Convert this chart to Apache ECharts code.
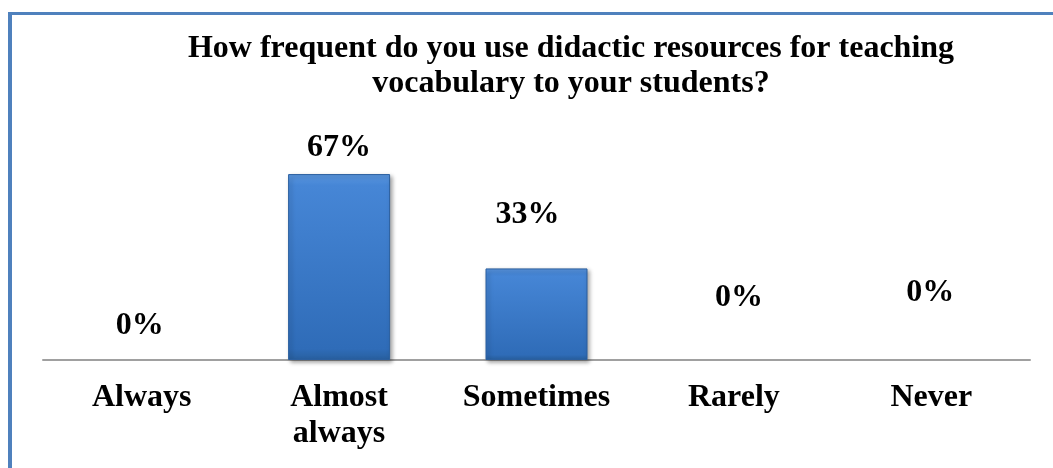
<!DOCTYPE html>
<html>
<head>
<meta charset="utf-8">
<script src="https://cdn.jsdelivr.net/npm/echarts@6/dist/echarts.min.js"></script>
<style>
html,body{margin:0;padding:0;background:#fff;}
#c{width:1053px;height:468px;}
</style>
</head>
<body>
<div id="c"></div>
<script>
const titleText = 'How frequent do you use didactic resources for teaching\nvocabulary to your students?';
const categories = ['Always', 'Almost\nalways', 'Sometimes', 'Rarely', 'Never'];
const values = [0, 67, 33, 0, 0];

const FONT = '"Liberation Serif", "Times New Roman", serif';
// manual label nudges (as in the original chart)
const nudges = [[-2, -18], [0, -10], [-9, -38], [5, -46], [-1, -51]];

const chart = echarts.init(document.getElementById('c'), null, {renderer: 'canvas'});
chart.setOption({
  backgroundColor: '#ffffff',
  animation: false,
  title: {
    text: titleText,
    left: 566,
    top: 26,
    textAlign: 'center',
    textStyle: {fontFamily: FONT, fontWeight: 'bold', fontSize: 32, lineHeight: 35, color: '#000'}
  },
  grid: {left: 43, right: 23, top: 138, bottom: 108},
  xAxis: {
    type: 'category',
    data: categories,
    axisLine: {lineStyle: {color: '#a0a0a0', width: 2}},
    axisTick: {show: false},
    axisLabel: {fontFamily: FONT, fontWeight: 'bold', fontSize: 32, lineHeight: 36, color: '#000', margin: 20, interval: 0}
  },
  yAxis: {
    type: 'value', min: 0, max: 80,
    show: false,
    splitLine: {show: false}
  },
  series: [{
    type: 'bar',
    barWidth: 102,
    data: values.map((v, i) => ({
      value: v,
      label: {offset: nudges[i]},
      itemStyle: v === 0 ? {borderWidth: 0, shadowBlur: 0, shadowOffsetX: 0, shadowOffsetY: 0, shadowColor: 'transparent'} : {}
    })),
    itemStyle: {
      color: new echarts.graphic.LinearGradient(0, 0, 0, 1, [
        {offset: 0, color: '#5b97e0'},
        {offset: 0.06, color: '#4686d6'},
        {offset: 0.94, color: '#2f6cb8'},
        {offset: 1, color: '#28609f'}
      ]),
      borderColor: '#2b5f9f',
      borderWidth: 1,
      shadowColor: 'rgba(0,0,0,0.35)',
      shadowBlur: 4,
      shadowOffsetX: 2,
      shadowOffsetY: 2
    },
    label: {
      show: true,
      position: 'top',
      distance: 0,
      formatter: '{c}%',
      fontFamily: FONT, fontWeight: 'bold', fontSize: 32, lineHeight: 32, color: '#000'
    }
  }],
  graphic: [
    {type: 'line', shape: {x1: 10, y1: 12, x2: 10, y2: 468}, style: {stroke: '#4f81bd', lineWidth: 4}, silent: true},
    {type: 'line', shape: {x1: 8, y1: 13.5, x2: 1053, y2: 13.5}, style: {stroke: '#4f81bd', lineWidth: 3}, silent: true}
  ]
});
</script>
</body>
</html>
